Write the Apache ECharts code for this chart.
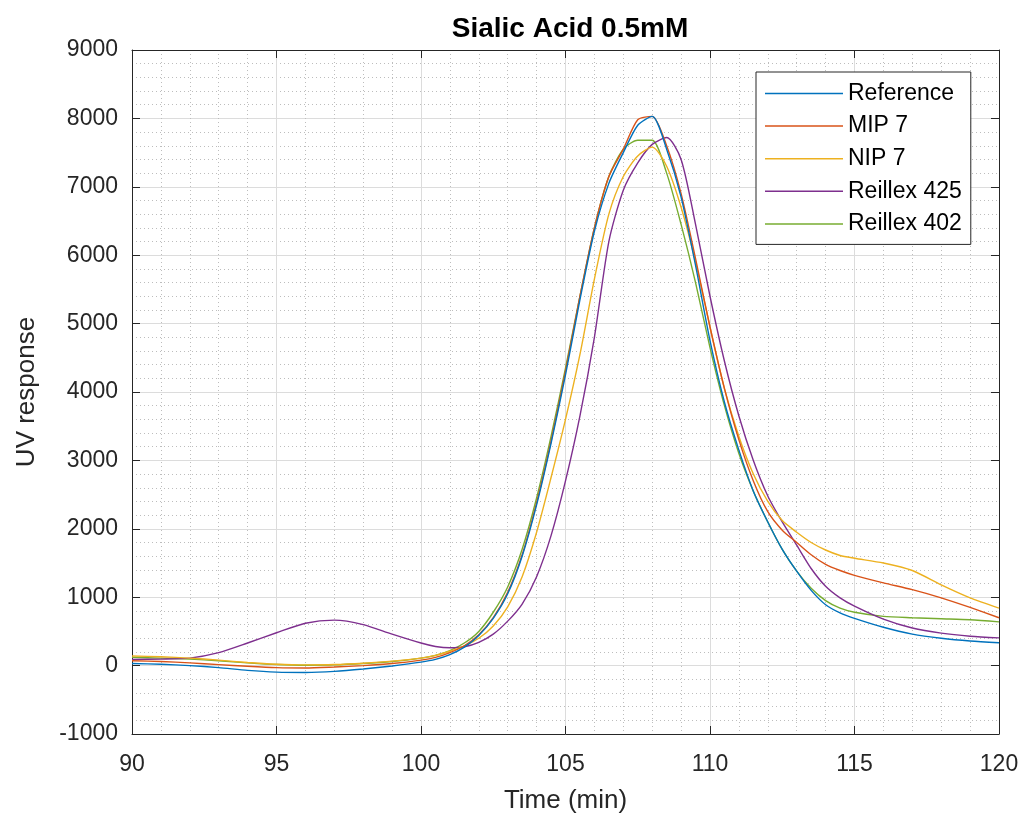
<!DOCTYPE html>
<html>
<head>
<meta charset="utf-8">
<script src="https://cdn.jsdelivr.net/npm/echarts@6/dist/echarts.min.js"></script>
<style>html,body{margin:0;padding:0;background:#fff}#c{width:1027px;height:823px}</style>
</head>
<body>
<div id="c"></div>
<script>
const timeMin = [90,91,92,93,94,95,96,97,98,99,100,100.5,101,101.5,102,102.5,103,103.5,104,104.5,105,105.5,106,106.5,107,107.5,108,108.5,109,109.5,110,110.5,111,111.5,112,112.5,113,113.5,114,114.5,115,116,117,118,119,120];
const seriesNames = ['Reference','MIP 7','NIP 7','Reillex 425','Reillex 402'];
const reference = [30,20,0,-30,-70,-95,-100,-85,-50,-5,50,90,160,270,440,690,1050,1600,2350,3250,4250,5350,6350,7050,7500,7900,8030,7550,6850,5850,4750,3850,3150,2550,2100,1700,1380,1100,890,770,690,560,460,400,360,335];
const mip7 = [70,60,40,15,-10,-30,-35,-20,0,30,80,120,190,290,450,700,1070,1620,2380,3280,4300,5400,6400,7150,7550,7980,8030,7600,6900,5950,4950,4050,3300,2700,2250,1980,1800,1620,1480,1390,1320,1210,1110,990,850,700];
const nip7 = [140,130,110,80,45,20,10,15,35,65,110,150,210,290,400,580,860,1300,1950,2750,3600,4550,5650,6600,7150,7450,7580,7300,6700,5900,4950,4050,3350,2800,2400,2120,1950,1800,1690,1610,1570,1500,1390,1180,990,840];
const reillex425 = [90,95,110,190,330,480,620,665,600,460,330,280,260,275,340,460,650,900,1300,1900,2700,3650,4800,6200,6950,7350,7620,7720,7400,6450,5400,4450,3650,3000,2480,2100,1760,1420,1160,990,870,680,550,475,430,405];
const reillex402 = [120,110,95,70,40,15,5,10,30,60,110,150,220,330,500,780,1150,1700,2450,3350,4350,5400,6400,7150,7550,7680,7680,7200,6450,5600,4650,3800,3100,2550,2100,1700,1380,1130,950,840,780,720,700,685,670,640];
const colors = ['#0072BD','#D95319','#EDB120','#7E2F8E','#77AC30'];
const xTicks = {min:90, max:120, interval:5};
const yTicks = {min:-1000, max:9000, interval:1000};

const allValues = [reference, mip7, nip7, reillex425, reillex402];
const font = '"Liberation Sans", Arial, Helvetica, sans-serif';
const axisColor = '#262626';

function baseX(pos, showLabel){
  return {
    type:'value', position:pos, min:xTicks.min, max:xTicks.max, interval:xTicks.interval,
    axisLine:{show:true, onZero:false, lineStyle:{color:axisColor, width:1}},
    axisTick:{show:true, inside:true, length:8, lineStyle:{color:axisColor}},
    axisLabel:{show:showLabel, fontFamily:font, fontSize:23, color:axisColor, margin:19,
      formatter:(v)=>String(v)},
    splitLine:{show:showLabel, lineStyle:{color:'#dcdcdc', width:1}},
    minorTick:{show:false, splitNumber:5},
    minorSplitLine:{show:showLabel, lineStyle:{color:'#bdbdbd', width:1, type:[1,3]}}
  };
}
function baseY(pos, showLabel){
  return {
    type:'value', position:pos, min:yTicks.min, max:yTicks.max, interval:yTicks.interval,
    axisLine:{show:true, onZero:false, lineStyle:{color:axisColor, width:1}},
    axisTick:{show:true, inside:true, length:8, lineStyle:{color:axisColor}},
    axisLabel:{show:showLabel, fontFamily:font, fontSize:23, color:axisColor, margin:14,
      formatter:(v)=>String(v)},
    splitLine:{show:showLabel, lineStyle:{color:'#dcdcdc', width:1}},
    minorTick:{show:false, splitNumber:5},
    minorSplitLine:{show:showLabel, lineStyle:{color:'#bdbdbd', width:1, type:[1,3]}}
  };
}
const x0 = baseX('bottom', true);
x0.name = 'Time (min)'; x0.nameLocation='middle'; x0.nameGap=54;
x0.nameTextStyle = {fontFamily:font, fontSize:26, color:axisColor};
const y0 = baseY('left', true);
y0.name = 'UV response'; y0.nameLocation='middle'; y0.nameGap=92;
y0.nameTextStyle = {fontFamily:font, fontSize:26, color:axisColor};

const chart = echarts.init(document.getElementById('c'), null, {renderer:'canvas'});
chart.setOption({
  animation:false,
  backgroundColor:'#ffffff',
  color: colors,
  title:{text:'Sialic Acid 0.5mM', left:565, textAlign:'center', top:10,
    textStyle:{fontFamily:font, fontSize:28, fontWeight:'bold', color:'#000'}},
  grid:{left:132, right:28, top:50, bottom:89, containLabel:false},
  xAxis:[x0, baseX('top', false)],
  yAxis:[y0, baseY('right', false)],
  legend:{
    orient:'vertical', left:756, top:72,
    backgroundColor:'#fff', borderColor:'#262626', borderWidth:1, borderRadius:0,
    padding:[10,9,9,9], itemWidth:78, itemHeight:1.5, itemGap:9.6, icon:'rect',
    textStyle:{fontFamily:font, fontSize:23, color:'#000', lineHeight:22},
    data: seriesNames
  },
  series: seriesNames.map((n,i)=>({
    name:n, type:'line', xAxisIndex:0, yAxisIndex:0,
    data: timeMin.map((t,k)=>[t, allValues[i][k]]),
    symbol:'none', smooth:0.25, lineStyle:{width:1.4, color:colors[i]},
    itemStyle:{color:colors[i]}, z: 10 - i
  }))
});
</script>
</body>
</html>
